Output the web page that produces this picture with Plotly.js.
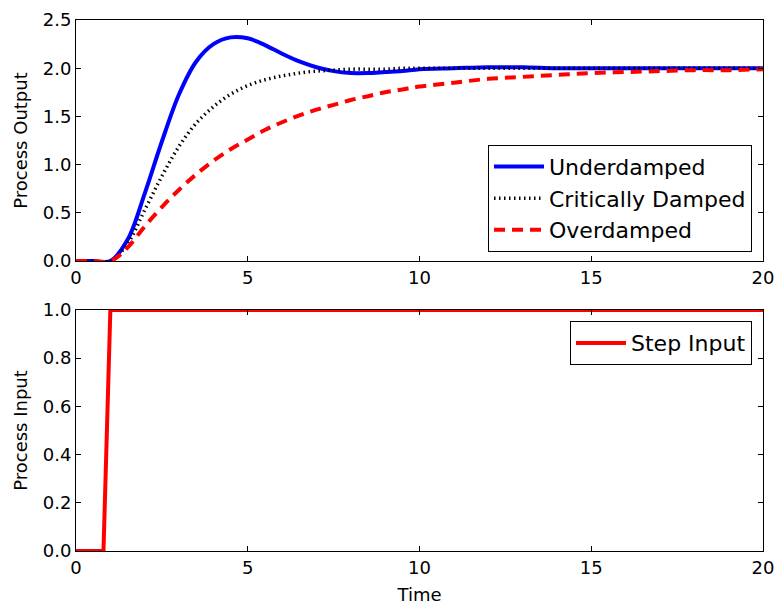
<!DOCTYPE html>
<html>
<head>
<meta charset="utf-8">
<script src="https://cdn.plot.ly/plotly-3.0.1.min.js"></script>
<style>html,body{margin:0;padding:0;background:#fff;}#chart{width:776px;height:605px;}</style>
</head>
<body>
<div id="chart"></div>
<script>
// Time grid
var time = [0,0.5,1,1.5,2,2.5,3,3.5,4,4.5,5,5.5,6,6.5,7,7.5,8,8.5,9,9.5,10,11,12,13,14,15,16,17,18,19,20];
var underdamped = [0,0,0,0.22,0.70,1.24,1.73,2.07,2.25,2.32,2.31,2.24,2.15,2.07,2.01,1.97,1.95,1.95,1.96,1.97,1.99,2.00,2.01,2.01,2.00,2.00,2.00,2.00,2.00,2.00,2.00];
var critDamped = [0,0,0,0.18,0.53,0.88,1.19,1.43,1.60,1.73,1.82,1.88,1.92,1.95,1.97,1.98,1.99,1.99,1.99,2.00,2.00,2.00,2.00,2.00,2.00,2.00,2.00,2.00,2.00,2.00,2.00];
var overdamped = [0,0,0,0.14,0.36,0.56,0.74,0.90,1.04,1.16,1.26,1.36,1.44,1.51,1.57,1.62,1.67,1.71,1.75,1.78,1.81,1.85,1.89,1.91,1.93,1.95,1.96,1.97,1.98,1.98,1.99];
var stepTime = [0,0.8,1.0,20];
var stepInput = [0,0,1,1];

var xTicks = [0,5,10,15,20];
var yTicksTop = [0,0.5,1.0,1.5,2.0,2.5];
var yTicksBottom = [0,0.2,0.4,0.6,0.8,1.0];

var font = {family: 'DejaVu Sans, sans-serif', size: 18, color: '#000'};
var legFont = {family: 'DejaVu Sans, sans-serif', size: 22, color: '#000'};

var traces = [
  {x: time, y: underdamped, name: 'Underdamped', mode: 'lines', xaxis: 'x', yaxis: 'y',
   line: {color: '#0000ff', width: 4, shape: 'spline', smoothing: 1}, legend: 'legend'},
  {x: time, y: critDamped, name: 'Critically Damped', mode: 'lines', xaxis: 'x', yaxis: 'y',
   line: {color: '#000000', width: 3.5, dash: '1.5px,3.5px', shape: 'spline', smoothing: 1}, legend: 'legend'},
  {x: time, y: overdamped, name: 'Overdamped', mode: 'lines', xaxis: 'x', yaxis: 'y',
   line: {color: '#ff0000', width: 4, dash: '11px,7px', shape: 'spline', smoothing: 1}, legend: 'legend'},
  {x: stepTime, y: stepInput, name: 'Step Input', mode: 'lines', xaxis: 'x2', yaxis: 'y2',
   line: {color: '#ff0000', width: 4}, legend: 'legend2'}
];

function xax(anchor, title) {
  var a = {range: [0,20], tickvals: xTicks, ticktext: xTicks.map(String), ticks: 'inside', ticklen: 5,
    tickcolor: '#000', showline: true, linecolor: '#000', linewidth: 1, mirror: 'ticks',
    showgrid: false, zeroline: false, anchor: anchor, tickfont: font, domain: [0,1]};
  if (title) a.title = {text: title, font: font, standoff: 11};
  return a;
}
function yax(anchor, domain, range, ticks, title) {
  return {range: range, domain: domain, tickvals: ticks, ticktext: ticks.map(function(v){return v.toFixed(1);}),
    ticks: 'inside', ticklen: 5, tickcolor: '#000', showline: true, linecolor: '#000', linewidth: 1,
    mirror: 'ticks', showgrid: false, zeroline: false, anchor: anchor, tickfont: font,
    title: {text: title, font: font, standoff: 10}};
}

var layout = {
  width: 776, height: 605,
  margin: {l: 76, r: 13, t: 20, b: 54},
  paper_bgcolor: '#fff', plot_bgcolor: '#fff',
  font: font,
  showlegend: true,
  xaxis: xax('y'),
  yaxis: yax('x', [0.546, 1], [0, 2.5], yTicksTop, 'Process Output'),
  xaxis2: xax('y2', 'Time'),
  yaxis2: yax('x2', [0, 0.4539], [0, 1.0], yTicksBottom, 'Process Input'),
  legend: {x: 0.984, xanchor: 'right', y: 0.765, yanchor: 'top', bgcolor: '#fff',
    bordercolor: '#000', borderwidth: 1, font: legFont, itemwidth: 50, tracegroupgap: 0},
  legend2: {x: 0.984, xanchor: 'right', y: 0.433, yanchor: 'top', bgcolor: '#fff',
    bordercolor: '#000', borderwidth: 1, font: legFont, itemwidth: 50}
};

Plotly.newPlot('chart', traces, layout, {displayModeBar: false, staticPlot: true});
</script>
</body>
</html>
